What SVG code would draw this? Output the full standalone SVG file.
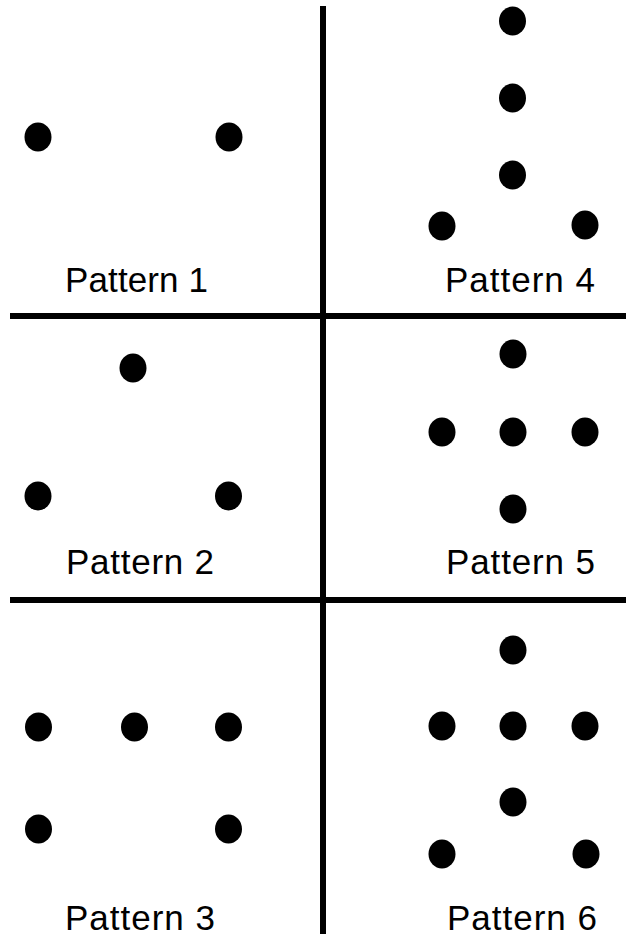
<svg xmlns="http://www.w3.org/2000/svg" width="626" height="938" viewBox="0 0 626 938">
<style>
.ln{stroke:#000;stroke-width:6;fill:none}
.d{fill:#000}
.lb{font-family:"Liberation Sans","DejaVu Sans",sans-serif;font-size:35px;fill:#000}
</style>
<defs><ellipse id="dot" cx="0" cy="0" rx="13.5" ry="14.5"/></defs>
<rect width="626" height="938" fill="#fff"/>
<g id="grid">
<line class="ln" x1="323" y1="6" x2="323" y2="934"/>
<line class="ln" x1="10" y1="316" x2="626" y2="316"/>
<line class="ln" x1="10" y1="600" x2="626" y2="600"/>
</g>
<g id="pattern1">
<use href="#dot" class="d" x="38" y="137"/>
<use href="#dot" class="d" x="229" y="137"/>
<text class="lb" x="65" y="292" textLength="143">Pattern 1</text>
</g>
<g id="pattern4">
<use href="#dot" class="d" x="512.5" y="21"/>
<use href="#dot" class="d" x="512.5" y="98"/>
<use href="#dot" class="d" x="512.5" y="175"/>
<use href="#dot" class="d" x="442" y="226"/>
<use href="#dot" class="d" x="585" y="225"/>
<text class="lb" x="445" y="292" textLength="150">Pattern 4</text>
</g>
<g id="pattern2">
<use href="#dot" class="d" x="133" y="368"/>
<use href="#dot" class="d" x="38" y="496"/>
<use href="#dot" class="d" x="228.5" y="496"/>
<text class="lb" x="66" y="574" textLength="148">Pattern 2</text>
</g>
<g id="pattern5">
<use href="#dot" class="d" x="513" y="354"/>
<use href="#dot" class="d" x="442" y="432"/>
<use href="#dot" class="d" x="513" y="432"/>
<use href="#dot" class="d" x="585" y="432"/>
<use href="#dot" class="d" x="513" y="509"/>
<text class="lb" x="446" y="574" textLength="149">Pattern 5</text>
</g>
<g id="pattern3">
<use href="#dot" class="d" x="38.5" y="727"/>
<use href="#dot" class="d" x="134.5" y="727"/>
<use href="#dot" class="d" x="228.5" y="727"/>
<use href="#dot" class="d" x="38.5" y="829"/>
<use href="#dot" class="d" x="228.5" y="829"/>
<text class="lb" x="65" y="930" textLength="150">Pattern 3</text>
</g>
<g id="pattern6">
<use href="#dot" class="d" x="513" y="650"/>
<use href="#dot" class="d" x="442" y="726"/>
<use href="#dot" class="d" x="513" y="726"/>
<use href="#dot" class="d" x="585" y="726"/>
<use href="#dot" class="d" x="513" y="802"/>
<use href="#dot" class="d" x="442" y="854"/>
<use href="#dot" class="d" x="586" y="854"/>
<text class="lb" x="447" y="930" textLength="150">Pattern 6</text>
</g>
</svg>
